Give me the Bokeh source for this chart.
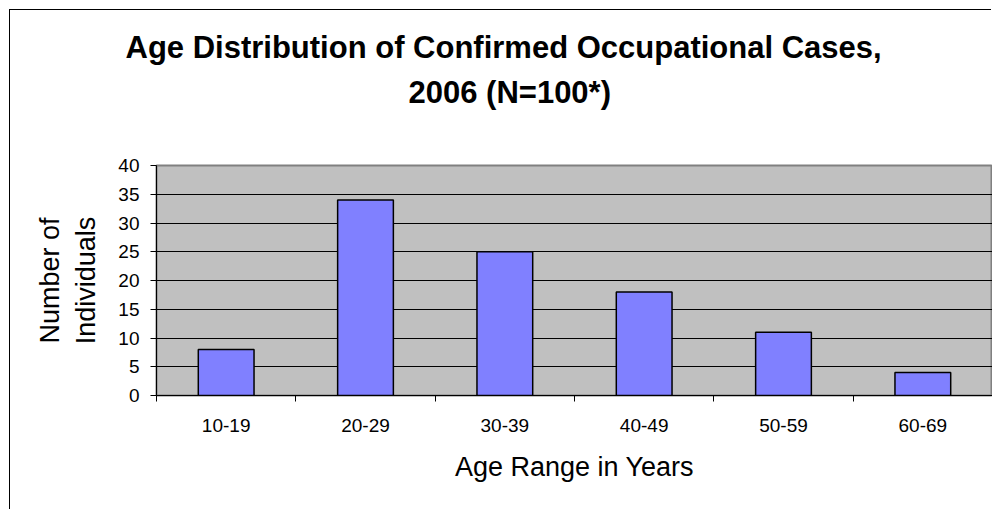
from bokeh.plotting import figure
from bokeh.models import Range1d, FixedTicker, Title
from bokeh.embed import file_html
from bokeh.resources import INLINE

# ---- data ----
categories = ["10-19", "20-29", "30-39", "40-49", "50-59", "60-69"]
counts = [8, 34, 25, 18, 11, 4]
y_ticks = [0, 5, 10, 15, 20, 25, 30, 35, 40]
title_line1 = "Age Distribution of Confirmed Occupational Cases,"
title_line2 = "2006 (N=100*)"
x_label = "Age Range in Years"
y_label = "Number of\nIndividuals"

FONT = "Liberation Sans"

centers = [i + 0.5 for i in range(len(categories))]
bounds = list(range(len(categories) + 1))

p = figure(width=982, height=500, output_backend="svg", toolbar_location=None,
           title=None,
           x_range=Range1d(0, len(categories)), y_range=Range1d(0, 40),
           min_border_left=146, min_border_right=0,
           min_border_top=155, min_border_bottom=115,
           background_fill_color="#C0C0C0", border_fill_color="white",
           outline_line_color="#808080", outline_line_width=2)
p.styles = {"margin-left": "10px", "margin-top": "10px",
            "box-shadow": "-1px -1px 0px 0px #000000"}

p.vbar(x=centers, top=counts, width=0.4, fill_color="#8080FF",
       line_color="black", line_width=1.5)

# titles (added from the plot outward): spacer, line 2, line 1
spacer = Title(text=" ", text_font=FONT, text_font_size="10px", standoff=35)
t2 = Title(text=title_line2, align="left", offset=252, standoff=16,
           text_font=FONT, text_font_size="31px", text_font_style="bold",
           text_color="black")
t1 = Title(text=title_line1, align="left", offset=-31, standoff=0,
           text_font=FONT, text_font_size="31px", text_font_style="bold",
           text_color="black")
p.add_layout(spacer, "above")
p.add_layout(t2, "above")
p.add_layout(t1, "above")

# x axis
xa = p.xaxis[0]
xa.ticker = FixedTicker(ticks=centers, minor_ticks=bounds)
xa.major_label_overrides = {c: lab for c, lab in zip(centers, categories)}
xa.major_tick_line_color = None
xa.major_tick_out = 0
xa.major_tick_in = 0
xa.minor_tick_line_color = "black"
xa.minor_tick_out = 6
xa.minor_tick_in = 0
xa.axis_line_color = "black"
xa.axis_line_width = 1
xa.major_label_text_font = FONT
xa.major_label_text_font_size = "19px"
xa.major_label_text_color = "black"
xa.major_label_standoff = 17
xa.axis_label = x_label
xa.axis_label_text_font = FONT
xa.axis_label_text_font_size = "27px"
xa.axis_label_text_font_style = "normal"
xa.axis_label_text_color = "black"
xa.axis_label_standoff = 17

# y axis
ya = p.yaxis[0]
ya.ticker = FixedTicker(ticks=y_ticks)
ya.major_tick_line_color = "black"
ya.major_tick_out = 6
ya.major_tick_in = 0
ya.minor_tick_line_color = None
ya.axis_line_color = "black"
ya.axis_line_width = 1
ya.major_label_text_font = FONT
ya.major_label_text_font_size = "19px"
ya.major_label_text_color = "black"
ya.major_label_standoff = 11
ya.axis_label = y_label
ya.axis_label_text_font = FONT
ya.axis_label_text_font_size = "27px"
ya.axis_label_text_font_style = "normal"
ya.axis_label_text_color = "black"
ya.axis_label_standoff = 14

p.xgrid.visible = False
p.ygrid.ticker = FixedTicker(ticks=y_ticks)
p.ygrid.grid_line_color = "black"
p.ygrid.grid_line_width = 1

open("out.html", "w").write(file_html(p, INLINE))
